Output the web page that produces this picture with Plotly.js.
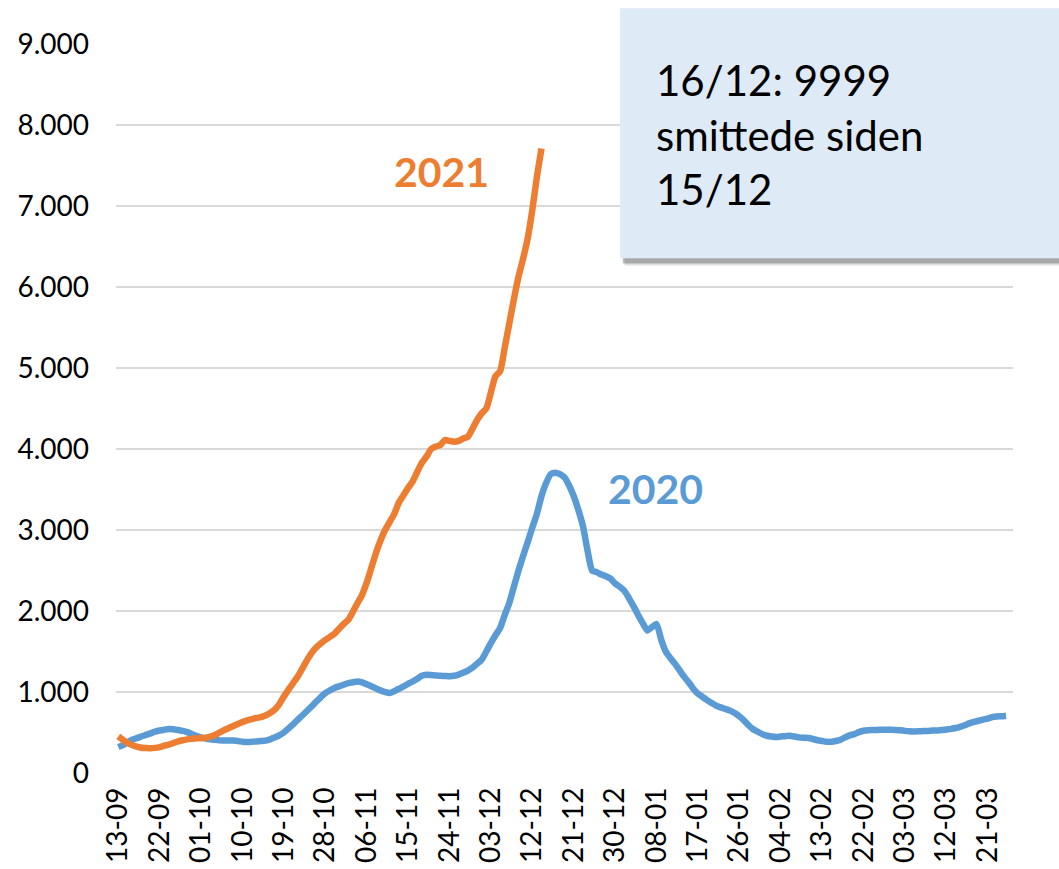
<!DOCTYPE html>
<html>
<head>
<meta charset="utf-8">
<script src="https://cdn.plot.ly/plotly-3.0.1.min.js"></script>
<style>html,body{margin:0;padding:0;background:#fff;}#chart{width:1059px;height:869px;}</style>
</head>
<body>
<div id="chart"></div>
<script>
// Tick labels (every 9th day, starting 13-09)
const tickLabels = ["13-09","22-09","01-10","10-10","19-10","28-10","06-11","15-11","24-11","03-12","12-12","21-12","30-12","08-01","17-01","26-01","04-02","13-02","22-02","03-03","12-03","21-03"];

// 2020 series: daily values from 13-09 (day 0)
const values2020 = [
 320,345,380,410,430,450,470,490,510,525,
 535,543,540,530,520,505,480,455,440,425,
 415,410,405,402,402,400,395,385,382,385,
 390,395,400,415,440,465,500,550,600,657,
 710,765,822,880,935,987,1020,1050,1070,1090,
 1110,1120,1130,1120,1095,1070,1045,1020,1000,987,
 1010,1040,1068,1100,1130,1165,1200,1213,1210,1205,
 1200,1198,1195,1200,1215,1240,1265,1300,1350,1400,
 1500,1604,1700,1790,1950,2100,2300,2500,2680,2850,
 3030,3200,3420,3580,3690,3708,3690,3650,3550,3420,
 3250,3050,2750,2500,2480,2450,2430,2400,2340,2300,
 2250,2160,2060,1950,1850,1760,1800,1840,1650,1500,
 1420,1350,1270,1190,1120,1040,980,940,900,863,
 830,810,790,770,740,700,650,590,540,510,
 480,460,450,444,450,455,460,450,440,435,
 432,420,405,395,386,385,395,411,440,465,
 480,505,522,528,530,532,533,534,534,532,
 528,520,515,513,515,518,520,524,526,530,
 538,545,555,570,590,612,630,645,660,672,
 690,698,700,707
];

// 2021 series: daily values from 13-09 (day 0)
const values2021 = [
 451,410,370,345,325,312,308,305,310,320,
 337,350,370,390,405,415,422,428,430,435,
 450,470,500,530,555,580,605,630,650,665,
 680,690,710,740,781,850,945,1030,1110,1192,
 1290,1390,1480,1550,1600,1644,1680,1720,1780,1840,
 1891,1990,2097,2200,2350,2530,2714,2870,3000,3100,
 3200,3340,3430,3520,3600,3720,3830,3905,4000,4030,
 4050,4111,4100,4091,4100,4130,4152,4250,4358,4440,
 4500,4700,4900,4960,5250,5550,5850,6126,6350,6600,
 6950,7359,7709
];

const boxText = "16/12: 9999<br>smittede siden<br>15/12";

const days2020 = values2020.map((_, i) => i);
const days2021 = values2021.map((_, i) => i);
const tickVals = tickLabels.map((_, i) => i * 9);

const FONT = "Lato, 'Liberation Sans', sans-serif";
const BLUE = "#5B9BD5";
const ORANGE = "#ED7D31";

const traces = [
  {x: days2020, y: values2020, type: "scatter", mode: "lines", name: "2020",
   line: {color: BLUE, width: 6.5, shape: "spline", smoothing: 0.6}, hoverinfo: "skip"},
  {x: days2021, y: values2021, type: "scatter", mode: "lines", name: "2021",
   line: {color: ORANGE, width: 6.5, shape: "spline", smoothing: 0.6}, hoverinfo: "skip"}
];

const layout = {
  width: 1059, height: 869,
  margin: {l: 116, r: 46, t: 44, b: 96, pad: 0},
  paper_bgcolor: "#ffffff", plot_bgcolor: "#ffffff",
  showlegend: false,
  separators: ",.",
  font: {family: FONT, color: "#000000"},
  xaxis: {
    range: [-0.5, 194.5], tickmode: "array", tickvals: tickVals, ticktext: tickLabels,
    tickangle: -90, tickfont: {size: 28, family: FONT, color: "#000"},
    showgrid: false, zeroline: false, showline: false, ticks: "", ticklabelstandoff: 8
  },
  yaxis: {
    range: [0, 9000], tickvals: [0,1000,2000,3000,4000,5000,6000,7000,8000,9000],
    tickformat: ",d", tickfont: {size: 28, family: FONT, color: "#000"},
    showgrid: true, gridcolor: "#D9D9D9", gridwidth: 1.5, zeroline: false, showline: false,
    ticks: "", ticklabelstandoff: 26
  },
  shapes: [
    {type: "rect", xref: "paper", yref: "paper", x0: 0.567, x1: 1.08, y0: 0.696, y1: 1.043,
     fillcolor: "rgba(0,0,0,0.12)", line: {width: 0}, layer: "above"},
    {type: "rect", xref: "paper", yref: "paper", x0: 0.565, x1: 1.08, y0: 0.699, y1: 1.046,
     fillcolor: "rgba(0,0,0,0.25)", line: {width: 0}, layer: "above"},
    {type: "rect", xref: "paper", yref: "paper", x0: 0.562, x1: 1.08, y0: 0.706, y1: 1.049,
     fillcolor: "#DEEAF6", line: {width: 0}, layer: "above"}
  ],
  annotations: [
    {xref: "paper", yref: "paper", x: 0.600, y: 0.876, xanchor: "left", yanchor: "middle",
     align: "left", showarrow: false, text: boxText,
     font: {family: FONT, size: 42, color: "#000"}},
    {xref: "x", yref: "y", x: 70.2, y: 7421, showarrow: false, text: "<b>2021</b>",
     font: {family: FONT, size: 41, color: ORANGE}},
    {xref: "x", yref: "y", x: 116.8, y: 3507, showarrow: false, text: "<b>2020</b>",
     font: {family: FONT, size: 41, color: BLUE}}
  ]
};

Plotly.newPlot("chart", traces, layout, {staticPlot: true, displayModeBar: false});
</script>
</body>
</html>
